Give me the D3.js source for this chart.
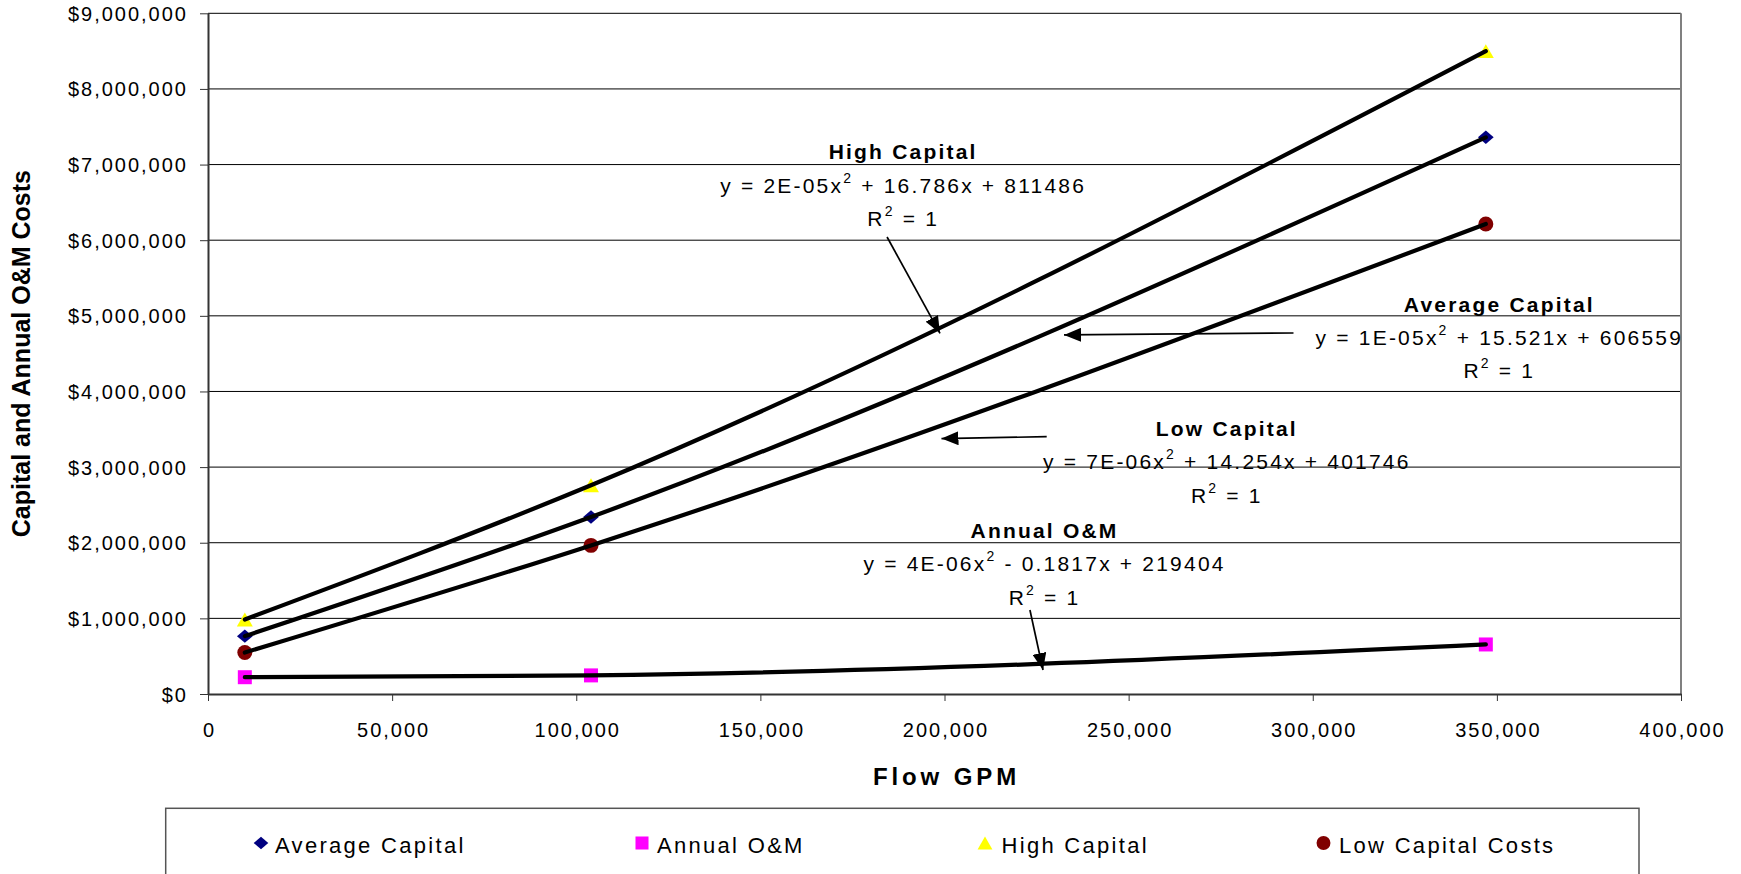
<!DOCTYPE html>
<html>
<head>
<meta charset="utf-8">
<script src="https://cdn.jsdelivr.net/npm/d3@7"></script>
<style>
  body { margin: 0; background: #fff; }
  svg { display: block; font-family: "Liberation Sans", Arial, sans-serif; }
  text { white-space: pre; }
</style>
</head>
<body>
<svg id="chart" width="1741" height="874"></svg>
<script>
// ---------------- data ----------------
const flowGPM = [10000, 104000, 347000];
const averageCapital = [765000, 2340000, 7360000];
const annualOM = [222000, 246000, 655000];
const highCapital = [985000, 2760000, 8500000];
const lowCapitalCosts = [548000, 1965000, 6215000];
const seriesNames = ["Average Capital", "Annual O&M", "High Capital", "Low Capital Costs"];
const yTicks = [0, 1000000, 2000000, 3000000, 4000000, 5000000, 6000000, 7000000, 8000000, 9000000];
const xTicks = [0, 50000, 100000, 150000, 200000, 250000, 300000, 350000, 400000];
const xTitle = "Flow GPM";
const yTitle = "Capital and Annual O&M Costs";

// trendline labels
const trendTitles = ["High Capital", "Average Capital", "Low Capital", "Annual O&M"];
const trendEqA = ["y = 2E-05x", "y = 1E-05x", "y = 7E-06x", "y = 4E-06x"];
const trendEqB = [" + 16.786x + 811486", " + 15.521x + 606559", " + 14.254x + 401746", " - 0.1817x + 219404"];
const trendR2 = ["1", "1", "1", "1"];

// ---------------- layout (annotation anchors in data units) ----------------
const eqAnchor = [[188500, 6628000], [350400, 4615000], [276400, 2971000], [226900, 1620000]];
const arrowFrom = [[184400, 6042000], [294770, 4773000], [227750, 3402000], [223200, 1111000]];
const arrowTo = [[198780, 4769000], [232450, 4747000], [199180, 3377000], [226750, 317000]];

const series = [
  { name: seriesNames[0], values: averageCapital, fill: "#000080", shape: "diamond" },
  { name: seriesNames[1], values: annualOM, fill: "#FF00FF", shape: "square" },
  { name: seriesNames[2], values: highCapital, fill: "#FFFF00", shape: "triangle" },
  { name: seriesNames[3], values: lowCapitalCosts, fill: "#800000", shape: "circle" }
];
const legendMarkerX = [261, 642, 985, 1323.5];
const legendTextX = [275, 657, 1001.5, 1339];

// ---------------- chart ----------------
const svg = d3.select("#chart");
const plot = { left: 208, right: 1681, top: 13.3, bottom: 694 };
const x = d3.scaleLinear().domain([0, 400000]).range([plot.left, plot.right]);
const y = d3.scaleLinear().domain([0, 9000000]).range([plot.bottom, plot.top]);

svg.append("rect").attr("width", 1741).attr("height", 874).attr("fill", "#fff");

// gridlines
svg.append("g").selectAll("line").data(yTicks.filter(d => d > 0)).join("line")
  .attr("x1", plot.left).attr("x2", plot.right)
  .attr("y1", d => y(d)).attr("y2", d => y(d))
  .attr("stroke", "#000").attr("stroke-width", 1);

// right border of plot area
svg.append("line")
  .attr("x1", plot.right).attr("x2", plot.right)
  .attr("y1", plot.top).attr("y2", plot.bottom)
  .attr("stroke", "#808080").attr("stroke-width", 2);

// axes
const yAxis = svg.append("g").attr("transform", `translate(${plot.left},0)`)
  .call(d3.axisLeft(y).tickValues(yTicks).tickSize(8).tickSizeOuter(0)
    .tickFormat(d => "$" + d3.format(",")(d)));
yAxis.attr("font-size", 20).attr("font-family", '"Liberation Sans", Arial, sans-serif');
yAxis.select(".domain").attr("stroke", "#333").attr("stroke-width", 2);
yAxis.selectAll(".tick line").attr("stroke", "#333").attr("stroke-width", 1);
yAxis.selectAll(".tick text").attr("x", -20).attr("dy", "0.35em")
  .attr("letter-spacing", 2).attr("fill", "#000");

const xAxis = svg.append("g").attr("transform", `translate(0,${plot.bottom})`)
  .call(d3.axisBottom(x).tickValues(xTicks).tickSize(7).tickSizeOuter(0)
    .tickFormat(d3.format(",")));
xAxis.attr("font-size", 20).attr("font-family", '"Liberation Sans", Arial, sans-serif');
xAxis.select(".domain").attr("stroke", "#333").attr("stroke-width", 2);
xAxis.selectAll(".tick line").attr("stroke", "#333").attr("stroke-width", 1);
xAxis.selectAll(".tick text").attr("y", 43).attr("dy", null).attr("x", 1)
  .attr("letter-spacing", 2).attr("fill", "#000");

// axis titles
svg.append("text")
  .attr("transform", `translate(30,${(plot.top + plot.bottom) / 2}) rotate(-90)`)
  .attr("text-anchor", "middle").attr("font-weight", "bold").attr("font-size", 25)
  .attr("fill", "#000").text(yTitle);
svg.append("text")
  .attr("x", (plot.left + plot.right) / 2 + 2).attr("y", 785)
  .attr("text-anchor", "middle").attr("font-weight", "bold").attr("font-size", 24)
  .attr("letter-spacing", 3.9).attr("fill", "#000").text(xTitle);

// marker generator
function markerPath(shape, scale) {
  const s = scale || 1;
  if (shape === "diamond") return d3.symbol(d3.symbolSquare, 112 * s * s)();
  if (shape === "square") return d3.symbol(d3.symbolSquare, 196 * s * s)();
  if (shape === "triangle") return d3.symbol(d3.symbolTriangle, 110 * s * s)();
  return d3.symbol(d3.symbolCircle, 176 * s * s)();
}
function markerTransform(shape, cx, cy, scale) {
  const s = scale || 1;
  if (shape === "diamond") return `translate(${cx},${cy}) scale(1.05,0.9) rotate(45)`;
  if (shape === "triangle") {
    const r = Math.sqrt(110 * s * s / (3 * Math.sqrt(3)));
    return `translate(${cx},${cy + r / 2})`;
  }
  return `translate(${cx},${cy})`;
}

// markers
const markerG = svg.append("g");
series.forEach(s => {
  markerG.append("g").selectAll("path").data(s.values).join("path")
    .attr("d", markerPath(s.shape))
    .attr("transform", (d, i) => markerTransform(s.shape, x(flowGPM[i]), y(d)))
    .attr("fill", s.fill);
});

// polynomial trendlines (through the series points)
const trend = d3.line().x((d, i) => x(flowGPM[i])).y(d => y(d)).curve(d3.curveMonotoneX);
svg.append("g").selectAll("path").data(series).join("path")
  .attr("d", s => trend(s.values))
  .attr("fill", "none").attr("stroke", "#000").attr("stroke-width", 4.2)
  .attr("stroke-linecap", "round").attr("stroke-linejoin", "round");

// arrowhead marker
svg.append("defs").append("marker")
  .attr("id", "arrowhead").attr("markerUnits", "userSpaceOnUse")
  .attr("viewBox", "0 0 17 14").attr("markerWidth", 17).attr("markerHeight", 14)
  .attr("refX", 17).attr("refY", 7).attr("orient", "auto")
  .append("path").attr("d", "M0,0 L17,7 L0,14 Z").attr("fill", "#000");

// annotations
const lineGap = 33.4;
trendTitles.forEach((t, i) => {
  const cx = x(eqAnchor[i][0]);
  const by = y(eqAnchor[i][1]);
  svg.append("text").attr("x", cx + 1).attr("y", by - lineGap)
    .attr("text-anchor", "middle").attr("font-weight", "bold").attr("font-size", 21)
    .attr("letter-spacing", 2.2).attr("fill", "#000").text(t);
  const eq = svg.append("text").attr("x", cx + 1).attr("y", by)
    .attr("text-anchor", "middle").attr("font-size", 21)
    .attr("letter-spacing", 2.2).attr("fill", "#000");
  eq.append("tspan").text(trendEqA[i]);
  eq.append("tspan").attr("dy", -10).attr("font-size", 14).text("2");
  eq.append("tspan").attr("dy", 10).text(trendEqB[i]);
  const r2 = svg.append("text").attr("x", cx + 1).attr("y", by + lineGap)
    .attr("text-anchor", "middle").attr("font-size", 21)
    .attr("letter-spacing", 2.2).attr("fill", "#000");
  r2.append("tspan").text("R");
  r2.append("tspan").attr("dy", -10).attr("font-size", 14).text("2");
  r2.append("tspan").attr("dy", 10).text(" = " + trendR2[i]);

  svg.append("line")
    .attr("x1", x(arrowFrom[i][0])).attr("y1", y(arrowFrom[i][1]))
    .attr("x2", x(arrowTo[i][0])).attr("y2", y(arrowTo[i][1]))
    .attr("stroke", "#000").attr("stroke-width", 1.7)
    .attr("marker-end", "url(#arrowhead)");
});

// legend
svg.append("rect").attr("x", 165.7).attr("y", 808.3).attr("width", 1473.3).attr("height", 120)
  .attr("fill", "#fff").attr("stroke", "#555").attr("stroke-width", 1.5);
const legendY = 843;
series.forEach((s, i) => {
  svg.append("path").attr("d", markerPath(s.shape, 0.93))
    .attr("transform", markerTransform(s.shape, legendMarkerX[i], legendY, 0.93))
    .attr("fill", s.fill);
  svg.append("text").attr("x", legendTextX[i]).attr("y", 853)
    .attr("font-size", 22).attr("letter-spacing", 2.3).attr("fill", "#000").text(s.name);
});
</script>
</body>
</html>
